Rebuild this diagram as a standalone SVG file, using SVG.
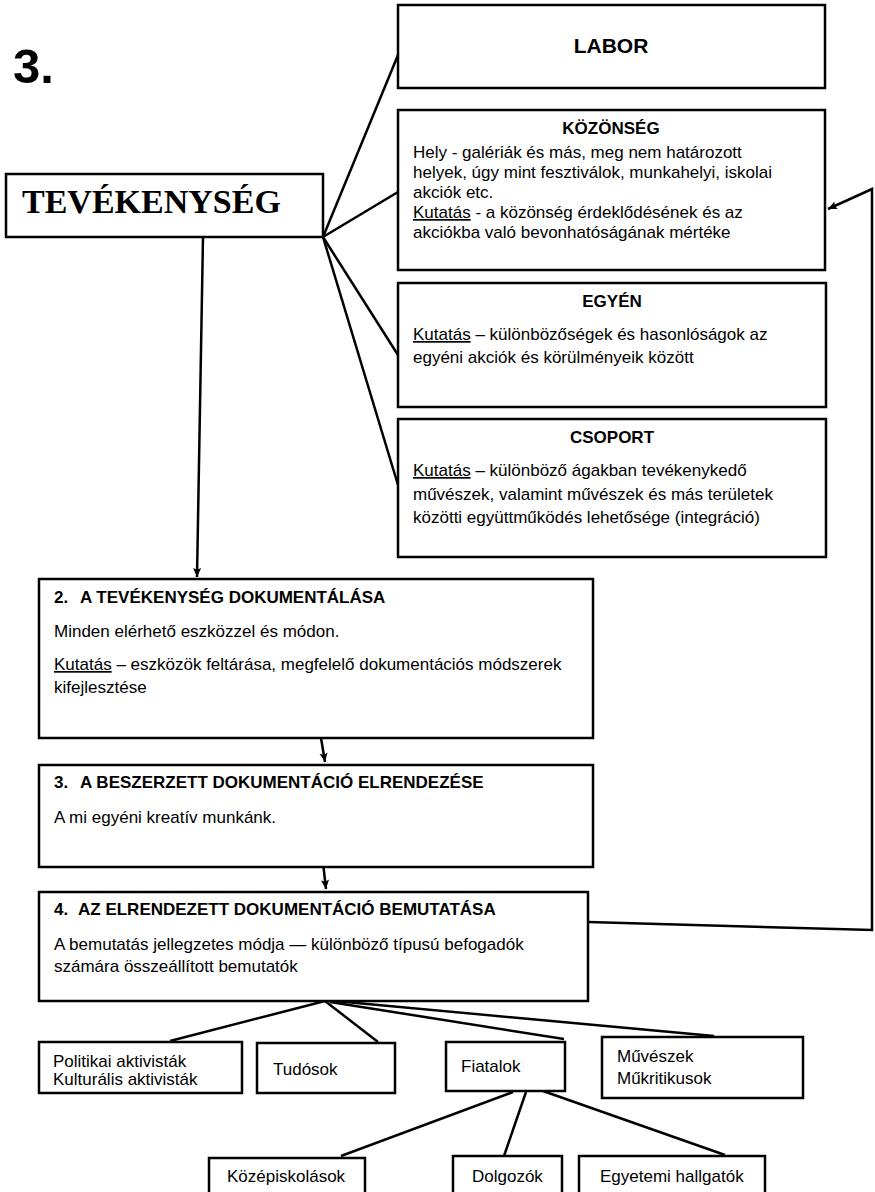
<svg xmlns="http://www.w3.org/2000/svg" width="875" height="1192" viewBox="0 0 875 1192">
<defs>
<style>
.box{fill:#fff;stroke:#000;stroke-width:2.5}
.t{font-family:"Liberation Sans",Arial,sans-serif;font-size:17px;fill:#000}
.b{font-weight:bold}
.u{text-decoration:underline}
.c{stroke:#000;stroke-width:2.5;fill:none;stroke-linejoin:miter}
</style>
<marker id="ah" viewBox="0 0 10 10" refX="10" refY="5" markerWidth="11" markerHeight="9" markerUnits="userSpaceOnUse" orient="auto">
<path d="M0,0.5 L10,5 L0,9.5 L2,5 Z" fill="#000"/>
</marker>
</defs>
<rect width="875" height="1192" fill="#fff"/>

<g id="title">
<text x="13" y="83" style="font-family:'Liberation Sans',Arial,sans-serif;font-size:49px;font-weight:bold">3.</text>
</g>

<g id="connectors">
<line class="c" x1="323" y1="237" x2="398" y2="55"/>
<line class="c" x1="323" y1="237" x2="398" y2="192"/>
<line class="c" x1="323" y1="237" x2="398" y2="355"/>
<line class="c" x1="323" y1="237" x2="398" y2="485"/>
<line class="c" x1="203" y1="237" x2="197" y2="577" marker-end="url(#ah)"/>
<line class="c" x1="318" y1="720" x2="325" y2="762" marker-end="url(#ah)"/>
<line class="c" x1="321" y1="845" x2="326" y2="889" marker-end="url(#ah)"/>
<path class="c" d="M588,922 L872,930 L872,189 L828,209" marker-end="url(#ah)"/>
<line class="c" x1="325" y1="1001" x2="170" y2="1041"/>
<line class="c" x1="325" y1="1001" x2="378" y2="1042"/>
<line class="c" x1="330" y1="1002" x2="564" y2="1039"/>
<line class="c" x1="335" y1="1001" x2="714" y2="1036"/>
<line class="c" x1="513" y1="1092" x2="341" y2="1156"/>
<line class="c" x1="526" y1="1092" x2="504" y2="1156"/>
<line class="c" x1="543" y1="1091" x2="725" y2="1155"/>
</g>

<g id="tevekenyseg">
<rect class="box" x="6" y="174" width="317" height="63"/>
<text x="22" y="213" style="font-family:'Liberation Serif','Times New Roman',serif;font-size:34px;font-weight:bold">TEVÉKENYSÉG</text>
</g>

<g id="labor">
<rect class="box" x="398" y="5" width="427" height="83"/>
<text class="t b" x="611" y="53" text-anchor="middle" style="font-size:21px">LABOR</text>
</g>

<g id="kozonseg">
<rect class="box" x="398" y="110" width="427" height="160"/>
<text class="t b" x="611" y="134" text-anchor="middle">KÖZÖNSÉG</text>
<text class="t" x="413" y="158">Hely - galériák és más, meg nem határozott</text>
<text class="t" x="413" y="178">helyek, úgy mint fesztiválok, munkahelyi, iskolai</text>
<text class="t" x="413" y="198">akciók etc.</text>
<text class="t" x="413" y="218"><tspan class="u">Kutatás</tspan> - a közönség érdeklődésének és az</text>
<text class="t" x="413" y="238">akciókba való bevonhatóságának mértéke</text>
</g>

<g id="egyen">
<rect class="box" x="398" y="283" width="428" height="124"/>
<text class="t b" x="612" y="307" text-anchor="middle">EGYÉN</text>
<text class="t" x="413" y="340"><tspan class="u">Kutatás</tspan> – különbözőségek és hasonlóságok az</text>
<text class="t" x="413" y="363">egyéni akciók és körülményeik között</text>
</g>

<g id="csoport">
<rect class="box" x="398" y="419" width="428" height="138"/>
<text class="t b" x="612" y="443" text-anchor="middle">CSOPORT</text>
<text class="t" x="413" y="476"><tspan class="u">Kutatás</tspan> – különböző ágakban tevékenykedő</text>
<text class="t" x="413" y="500">művészek, valamint művészek és más területek</text>
<text class="t" x="413" y="523">közötti együttműködés lehetősége (integráció)</text>
</g>

<g id="dokumentalas">
<rect class="box" x="39" y="579" width="554" height="159"/>
<text class="t b" y="603"><tspan x="54">2.</tspan><tspan x="80">A TEVÉKENYSÉG DOKUMENTÁLÁSA</tspan></text>
<text class="t" x="54" y="637">Minden elérhető eszközzel és módon.</text>
<text class="t" x="54" y="670"><tspan class="u">Kutatás</tspan> – eszközök feltárása, megfelelő dokumentációs módszerek</text>
<text class="t" x="54" y="693">kifejlesztése</text>
</g>

<g id="elrendezes">
<rect class="box" x="39" y="765" width="554" height="102"/>
<text class="t b" y="788"><tspan x="54">3.</tspan><tspan x="80">A BESZERZETT DOKUMENTÁCIÓ ELRENDEZÉSE</tspan></text>
<text class="t" x="54" y="823">A mi egyéni kreatív munkánk.</text>
</g>

<g id="bemutatas">
<rect class="box" x="39" y="892" width="549" height="109"/>
<text class="t b" y="915"><tspan x="54">4.</tspan><tspan x="78">AZ ELRENDEZETT DOKUMENTÁCIÓ BEMUTATÁSA</tspan></text>
<text class="t" x="54" y="950">A bemutatás jellegzetes módja — különböző típusú befogadók</text>
<text class="t" x="54" y="972">számára összeállított bemutatók</text>
</g>

<g id="aktivistak">
<rect class="box" x="39" y="1042" width="203" height="51"/>
<text class="t" x="53" y="1067">Politikai aktivisták</text>
<text class="t" x="53" y="1085">Kulturális aktivisták</text>
</g>

<g id="tudosok">
<rect class="box" x="257" y="1043" width="138" height="50"/>
<text class="t" x="273" y="1075">Tudósok</text>
</g>

<g id="fiatalok">
<rect class="box" x="446" y="1042" width="119" height="49"/>
<text class="t" x="461" y="1072">Fiatalok</text>
</g>

<g id="muveszek">
<rect class="box" x="602" y="1037" width="201" height="61"/>
<text class="t" x="617" y="1062">Művészek</text>
<text class="t" x="617" y="1084">Műkritikusok</text>
</g>

<g id="kozepiskolasok">
<rect class="box" x="209" y="1158" width="156" height="40"/>
<text class="t" x="227" y="1182">Középiskolások</text>
</g>

<g id="dolgozok">
<rect class="box" x="453" y="1156" width="109" height="42"/>
<text class="t" x="472" y="1182">Dolgozók</text>
</g>

<g id="egyetemi">
<rect class="box" x="579" y="1156" width="186" height="42"/>
<text class="t" x="600" y="1182">Egyetemi hallgatók</text>
</g>
</svg>
